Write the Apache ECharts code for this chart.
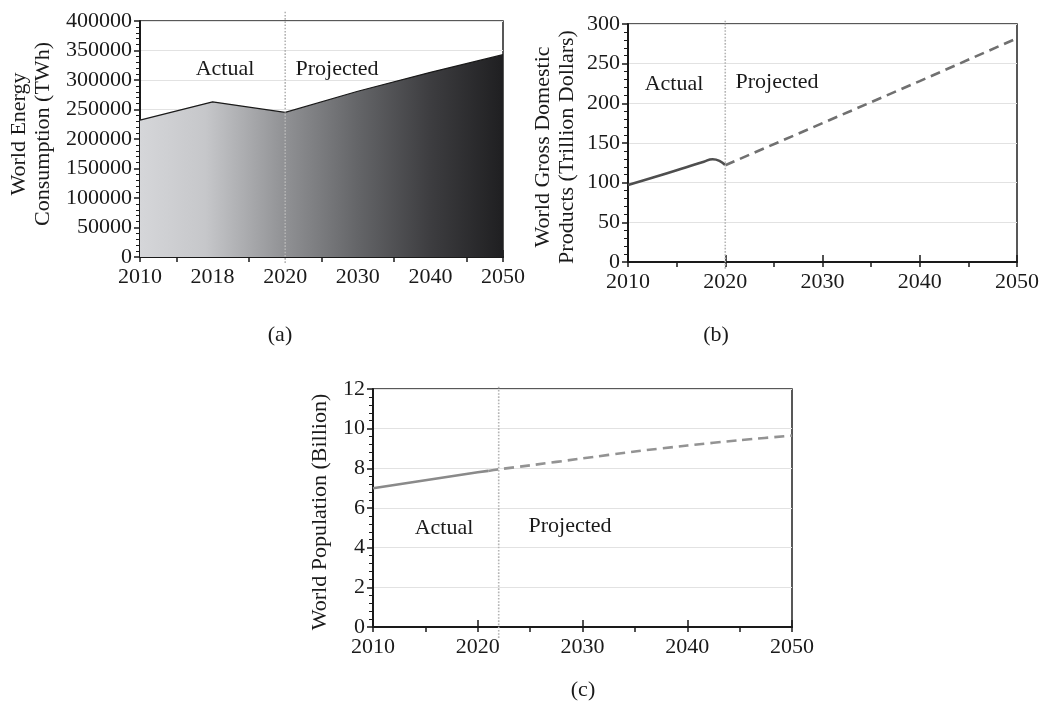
<!DOCTYPE html>
<html><head><meta charset="utf-8">
<script src="https://cdn.jsdelivr.net/npm/echarts@6/dist/echarts.min.js"></script>
<style>html,body{margin:0;padding:0;background:#fff}#c{width:1054px;height:703px}</style>
</head><body><div id="c"></div>
<script>
// ---------- data ----------
const energyYears = ['2010', '2018', '2020', '2030', '2040', '2050'];
const energyValues = [232000, 263000, 245000, 281000, 313000, 343000];
const energyDividerIndex = 2; // 2020

const gdpActualYears = [2010, 2013, 2016, 2017.8, 2018.7, 2019.4, 2020];
const gdpActualValues = [97, 108, 119.5, 126.5, 129.5, 127.5, 122];
const gdpProjYears = [2020, 2030, 2040, 2050];
const gdpProjValues = [122, 175, 228, 282];
const gdpDivider = 2020;

const popActualYears = [2010, 2015, 2020, 2021];
const popActualValues = [7.0, 7.4, 7.8, 7.87];
const popProjYears = [2021, 2022, 2025, 2030, 2035, 2040, 2045, 2050];
const popProjValues = [7.87, 7.95, 8.15, 8.5, 8.85, 9.15, 9.42, 9.65];
const popDivider = 2022;

const titles = {
  a: 'World Energy\nConsumption (TWh)',
  b: 'World Gross Domestic\nProducts (Trillion Dollars)',
  c: 'World Population (Billion)'
};

// ---------- style ----------
const font = "'Liberation Serif','Times New Roman',serif";
const ink = '#1a1a1a';
const FS = 22;

function yAx(gi, max, interval) {
  return {
    type: 'value', gridIndex: gi, min: 0, max: max, interval: interval,
    axisLine: {show: true, lineStyle: {color: ink, width: 2}},
    axisTick: {show: true, length: 6, lineStyle: {color: ink, width: 1.5}},
    minorTick: {show: true, splitNumber: 5, length: 4, lineStyle: {color: ink, width: 1}},
    splitLine: {show: true, lineStyle: {color: '#e2e2e2', width: 1}},
    axisLabel: {fontFamily: font, fontSize: FS, color: ink, margin: 8, formatter: v => String(v)}
  };
}
function xMain(gi, min, max, interval, fmt) {
  return {
    type: 'value', gridIndex: gi, position: 'bottom', min: min, max: max, interval: interval,
    axisLine: {show: true, onZero: false, lineStyle: {color: ink, width: 2}},
    axisTick: {show: true, inside: true, length: 7, lineStyle: {color: ink, width: 1.5}},
    splitLine: {show: false},
    axisLabel: {fontFamily: font, fontSize: FS, color: ink, margin: 9, formatter: fmt}
  };
}
function xMinor(gi, min, max, interval, custom) {
  const tick = {show: true, inside: false, length: 5, lineStyle: {color: ink, width: 1.5}};
  if (custom) tick.customValues = custom;
  return {
    type: 'value', gridIndex: gi, position: 'bottom', min: min, max: max, interval: interval,
    axisLine: {show: false, onZero: false}, axisTick: tick,
    splitLine: {show: false}, axisLabel: {show: false}
  };
}
const gridStyle = {show: true, borderColor: '#222', borderWidth: 1.5, containLabel: false};

function divider(xi, yi, x, lo, hi) {
  return {
    type: 'line', xAxisIndex: xi, yAxisIndex: yi, clip: false, silent: true,
    symbol: 'none', z: 5,
    lineStyle: {type: 'dotted', color: '#b4b4b4', width: 1.6},
    data: [[x, lo], [x, hi]]
  };
}
function zip(xs, ys) { return xs.map((x, i) => [x, ys[i]]); }

const energyMax = 400000, gdpMax = 300, popMax = 12;

const option = {
  animation: false,
  backgroundColor: '#fff',
  textStyle: {fontFamily: font},
  grid: [
    Object.assign({left: 140, top: 21, width: 363, height: 236}, gridStyle),
    Object.assign({left: 628, top: 24, width: 389, height: 238}, gridStyle),
    Object.assign({left: 373, top: 389, width: 419, height: 238}, gridStyle)
  ],
  xAxis: [
    xMain(0, 0, 5, 1, v => energyYears[Math.round(v)] || ''),
    xMinor(0, 0, 5, 0.5, [0, 0.5, 1.5, 2.5, 3.5, 4.5, 5]),
    xMain(1, 2010, 2050, 10, v => String(v)),
    xMinor(1, 2010, 2050, 5),
    xMain(2, 2010, 2050, 10, v => String(v)),
    xMinor(2, 2010, 2050, 5)
  ],
  yAxis: [
    yAx(0, energyMax, 50000),
    yAx(1, gdpMax, 50),
    yAx(2, popMax, 2)
  ],
  series: [
    {
      type: 'line', xAxisIndex: 0, yAxisIndex: 0, symbol: 'none', z: 3,
      data: energyValues.map((v, i) => [i, v]),
      lineStyle: {color: ink, width: 1.2},
      areaStyle: {
        opacity: 1,
        color: new echarts.graphic.LinearGradient(0, 0, 1, 0, [
          {offset: 0, color: '#d5d6d9'},
          {offset: 0.18, color: '#c6c7ca'},
          {offset: 0.4, color: '#909194'},
          {offset: 0.6, color: '#646568'},
          {offset: 0.8, color: '#3d3d40'},
          {offset: 1, color: '#1f1f21'}
        ])
      }
    },
    divider(0, 0, energyDividerIndex, -energyMax * 0.025, energyMax * 1.046),
    {
      type: 'line', xAxisIndex: 2, yAxisIndex: 1, symbol: 'none', smooth: 0.5, z: 3,
      data: zip(gdpActualYears, gdpActualValues),
      lineStyle: {color: '#4e4e4e', width: 2.6}
    },
    {
      type: 'line', xAxisIndex: 2, yAxisIndex: 1, symbol: 'none', z: 3,
      data: zip(gdpProjYears, gdpProjValues),
      lineStyle: {color: '#707070', width: 2.6, type: [10, 6]}
    },
    divider(2, 1, gdpDivider, -gdpMax * 0.028, gdpMax * 1.02),
    {
      type: 'line', xAxisIndex: 4, yAxisIndex: 2, symbol: 'none', z: 3,
      data: zip(popActualYears, popActualValues),
      lineStyle: {color: '#8a8a8a', width: 2.6}
    },
    {
      type: 'line', xAxisIndex: 4, yAxisIndex: 2, symbol: 'none', z: 3, smooth: 0.2,
      data: zip(popProjYears, popProjValues),
      lineStyle: {color: '#939393', width: 2.6, type: [10, 6]}
    },
    divider(4, 2, popDivider, -popMax * 0.046, popMax * 1.013)
  ],
  graphic: []
};

function t(text, x, y, extra) {
  return Object.assign({
    type: 'text', x: x, y: y, z: 50,
    style: {text: text, fontFamily: font, fontSize: FS, fill: ink, align: 'center', verticalAlign: 'middle'}
  }, extra || {});
}
function rt(text, x, y) {
  return {
    type: 'text', x: x, y: y, rotation: Math.PI / 2, z: 50,
    style: {text: text, fontFamily: font, fontSize: FS, lineHeight: 24, fill: ink, align: 'center', verticalAlign: 'middle'}
  };
}
option.graphic = [
  t('Actual', 225, 69), t('Projected', 337, 69),
  t('Actual', 674, 84), t('Projected', 777, 82),
  t('Actual', 444, 528), t('Projected', 570, 526),
  t('(a)', 280, 335), t('(b)', 716, 335), t('(c)', 583, 690),
  rt(titles.a, 31, 134), rt(titles.b, 555, 147), rt(titles.c, 320, 512)
];

const chart = echarts.init(document.getElementById('c'), null, {renderer: 'canvas'});
chart.setOption(option);
</script>
</body></html>
